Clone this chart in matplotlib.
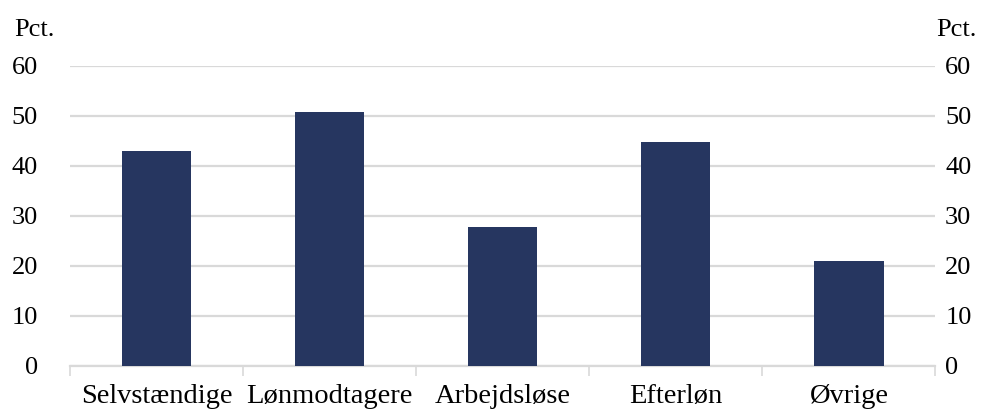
import matplotlib.pyplot as plt
import numpy as np

# Data
categories = ["Selvstændige", "Lønmodtagere", "Arbejdsløse", "Efterløn", "Øvrige"]
values = [43.0, 50.8, 27.7, 44.7, 20.9]
yticks = [0, 10, 20, 30, 40, 50, 60]

bar_color = "#263660"
grid_color = "#d9d9d9"

plt.rcParams['font.family'] = ['Liberation Serif', 'DejaVu Serif']

fig = plt.figure(figsize=(9.92, 4.12), dpi=100)
ax = fig.add_axes([0.0704, 0.1117, 0.8726, 0.7288])

x = np.arange(len(categories))
ax.bar(x, values, width=0.4, color=bar_color, zorder=3)

ax.set_xlim(-0.5, len(categories) - 0.5)
ax.set_ylim(0, 60)
ax.set_yticks(yticks)
ax.grid(axis='y', color=grid_color, linewidth=1.6, zorder=0)

# category labels at bar centres, tick marks at category boundaries
ax.set_xticks(x)
ax.set_xticklabels(categories, fontsize=20.5)
ax.tick_params(axis='x', which='major', length=0, pad=13)
ax.set_xticks(np.arange(-0.5, len(categories)), minor=True)
ax.tick_params(axis='x', which='minor', length=7, color=grid_color, width=1.2)

ax.tick_params(axis='y', length=0, labelsize=19, pad=23)

for side in ['top', 'left', 'right']:
    ax.spines[side].set_visible(False)
ax.spines['bottom'].set_color(grid_color)
ax.spines['bottom'].set_linewidth(1.6)

# right-hand axis with same scale
ax2 = ax.twinx()
ax2.set_ylim(ax.get_ylim())
ax2.set_yticks(yticks)
ax2.tick_params(axis='y', length=0, labelsize=19, pad=7)
for side in ['top', 'left', 'right', 'bottom']:
    ax2.spines[side].set_visible(False)

fig.text(14 / 992, 1 - 30 / 412, "Pct.", fontsize=19, va='center', ha='left')
fig.text(977 / 992, 1 - 30 / 412, "Pct.", fontsize=19, va='center', ha='right')

fig.savefig("out.png", dpi=100)
